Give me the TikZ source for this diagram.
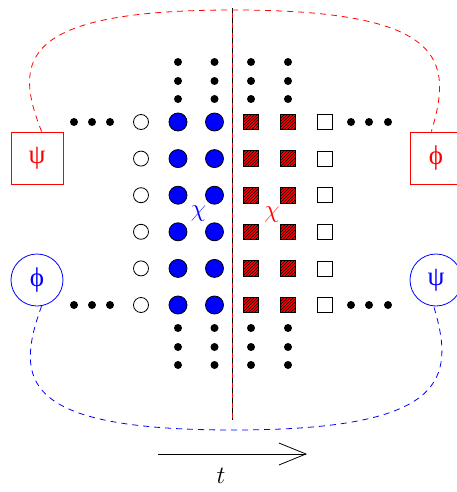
\documentclass[tikz,border=0pt]{standalone}
\usepackage{fontspec}
\newfontfamily\greekfont{Liberation Serif}
\usetikzlibrary{arrows.meta,patterns}

\begin{document}
\begin{tikzpicture}[x=1pt,y=-1pt,line width=0.8pt,
	dot/.style={circle,fill=black,inner sep=0pt,minimum size=8pt},
	opensite/.style={circle,draw=black,fill=white,inner sep=0pt,minimum size=15pt},
	bluesite/.style={circle,draw=black,fill=blue,inner sep=0pt,minimum size=18pt},
	redsite/.style={rectangle,draw=black,fill=red,postaction={pattern=north east lines},inner sep=0pt,minimum size=15.5pt},
	opensquare/.style={rectangle,draw=black,fill=white,inner sep=0pt,minimum size=15pt},
	greek/.style={inner sep=0pt,font=\greekfont\fontsize{27}{27}\selectfont},
	chilab/.style={inner sep=0pt,font=\fontsize{24}{24}\selectfont},
	redbox/.style={rectangle,draw=red,greek,text=red,minimum size=52pt},
	bluecirc/.style={circle,draw=blue,greek,text=blue,minimum size=52pt},
	link/.style={dash pattern=on 6pt off 5pt}]
	\useasboundingbox (0,0) rectangle (457,492);
	%%%%% START %%%%%
	% sites of the two chains
	\foreach \r in {0,...,5}{
		\node[opensite] (a\r) at (141,122+36.6*\r) {};
		\node[bluesite] (b\r) at (178,122+36.6*\r) {};
		\node[bluesite] (c\r) at (214.5,122+36.6*\r) {};
		\node[redsite] (d\r) at (251,122+36.6*\r) {};
		\node[redsite] (e\r) at (288,122+36.6*\r) {};
		\node[opensquare] (f\r) at (324.5,122+36.6*\r) {};
	}
	
	% dots above and below
	\foreach \x in {178,214.5,251,288}{
		\foreach \y in {62,81,99,328,347,365}
			\node[dot] at (\x,\y) {};
	}
	% dots left and right
	\foreach \y in {122,305}{
		\foreach \x in {74,92,110,351,369,388}
			\node[dot] at (\x,\y) {};
	}
	
	\node[chilab,text=blue] (chiL) at (198.5,214) {$\chi$};
	\node[chilab,text=red] (chiR) at (272,215) {$\chi$};
	
	% cut in the middle
	\coordinate (cuttop) at (232.5,8);
	\coordinate (cutbot) at (232.5,420);
	\draw[red] (cuttop) -- (cutbot);
	\draw[black,dash pattern=on 5pt off 5pt] (cuttop) -- (cutbot);
	
	\node[redbox] (psiL) at (37,158) {ψ};
	\node[redbox] (phiR) at (436,158) {ϕ};
	\node[bluecirc] (phiL) at (37,280) {ϕ};
	\node[bluecirc] (psiR) at (436,280) {ψ};
	
	\coordinate (top) at (233,10);
	\coordinate (bot) at (233,430);
	\draw[red,link] (psiL.80) .. controls (13,60) and (20,10) .. (top)
		.. controls (446,10) and (453,60) .. (phiR.100);
	\draw[blue,link] (phiL.-80) .. controls (15,380) and (20,430) .. (bot)
		.. controls (446,430) and (456,380) .. (psiR.-95);
	
	% time
	\coordinate (t0) at (158,454);
	\coordinate (t1) at (307,454);
	\draw[-{Straight Barb[length=27pt,width=22pt]}] (t0) -- (t1);
	\node[inner sep=0pt] (tlab) at (221,476) {\fontsize{25}{25}\selectfont$t$};
	%%%%% END %%%%%
\end{tikzpicture}
\end{document}
